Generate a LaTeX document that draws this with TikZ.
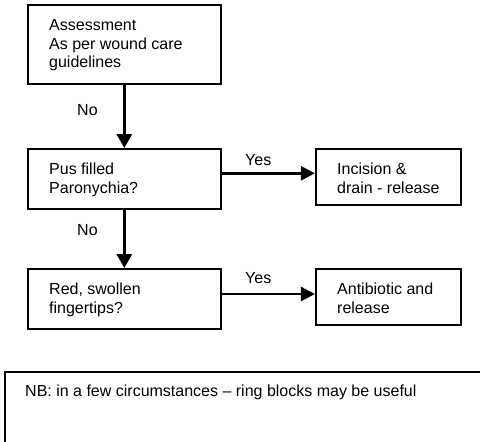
\documentclass[tikz,border=0pt]{standalone}
\usepackage{fontspec}
\setmainfont{Liberation Sans}
\usetikzlibrary{arrows.meta}
\begin{document}
\begin{tikzpicture}[x=1pt,y=-1pt,
  box/.style={draw=black,line width=2pt,minimum width=192.7pt,inner sep=0pt},
  sidebox/.style={draw=black,line width=2pt,minimum width=144.7pt,minimum height=56pt,inner sep=0pt},
  txt/.style={anchor=base west,inner sep=0pt,align=left,font=\fontsize{16pt}{18.4pt}\selectfont},
  down/.style={line width=3pt,-{Triangle[length=14pt,width=15pt]}},
  across/.style={line width=2.5pt,-{Triangle[length=14pt,width=14pt]}}]
  \useasboundingbox (0,0) rectangle (480,442);

  % flow boxes
  \node[box,minimum height=79pt] (assess) at (124.3,44.5) {};
  \node[box,minimum height=60pt] (pus) at (124.3,179) {};
  \node[box,minimum height=60pt] (red) at (124.3,299) {};
  \node[sidebox] (incision) at (388.3,177) {};
  \node[sidebox] (antib) at (388.3,297) {};

  % box texts, placed by the baseline of their last line
  \node[txt] (tassess) at (49,67.6) {Assessment\\As per wound care\\guidelines};
  \node[txt] (tpus) at (49,193.2) {Pus filled\\Paronychia?};
  \node[txt] (tred) at (49,313.2) {Red, swollen\\fingertips?};
  \node[txt] (tinc) at (337,193) {Incision \&\\drain - release};
  \node[txt] (tant) at (337,313) {Antibiotic and\\release};

  % connectors
  \draw[down] (assess.south) -- (pus.north);
  \draw[down] (pus.south) -- (red.north);
  \coordinate (ya) at (0,173.3);
  \coordinate (yb) at (0,294);
  \draw[across] (pus.east |- ya) -- (incision.west |- ya);
  \draw[across] (red.east |- yb) -- (antib.west |- yb);

  % connector labels
  \node[txt] (no1) at (77,115.6) {No};
  \node[txt] (no2) at (77,235.6) {No};
  \node[txt] (yes1) at (245,165) {Yes};
  \node[txt] (yes2) at (245,283.3) {Yes};

  % note panel running off the lower right edge
  \draw[line width=2pt] (5,445) -- (5,371.7) -- (485,371.7);
  \node[txt] (note) at (25,396) {NB: in a few circumstances -- ring blocks may be useful};
\end{tikzpicture}
\end{document}
